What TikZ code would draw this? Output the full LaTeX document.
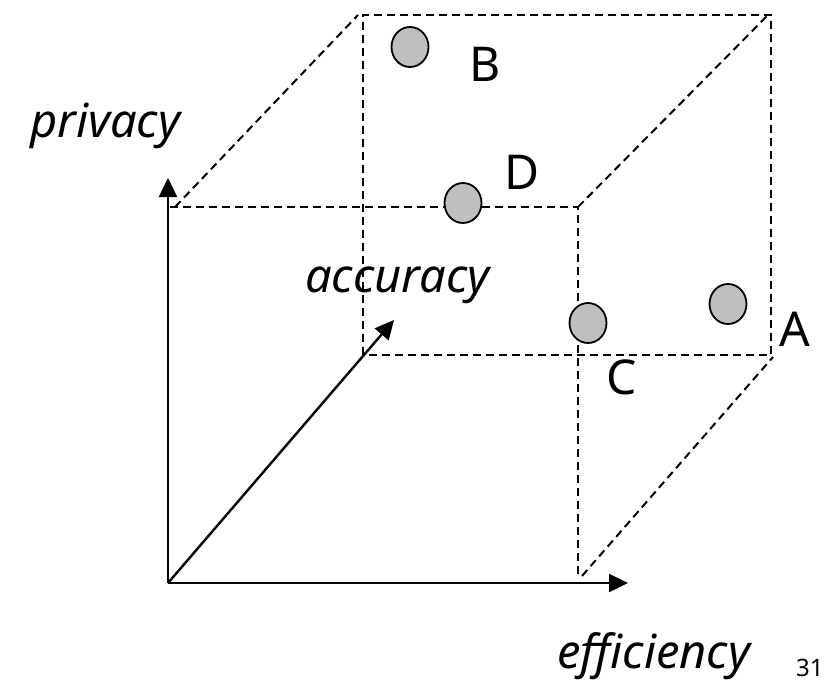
\documentclass[tikz,border=0pt]{standalone}
\usepackage{fontspec}
\setmainfont{Noto Sans}
\usetikzlibrary{arrows.meta}
\tikzset{
  axis/.style={line width=2.4pt, -{Triangle[length=19pt,width=18pt]}},
  edge/.style={line width=2pt, dash pattern=on 8pt off 5pt},
  point/.style={ellipse, draw, line width=1.8pt, fill=black!25, minimum width=37pt, minimum height=40pt, inner sep=0pt},
  lbl/.style={font=\fontsize{48}{48}\selectfont, inner sep=0pt},
  axlbl/.style={font=\fontsize{47}{47}\selectfont\itshape, inner sep=0pt, anchor=base west}
}
\usetikzlibrary{shapes.geometric}
\begin{document}
\begin{tikzpicture}[x=1pt,y=-1pt]
            \useasboundingbox (0,0) rectangle (838,683);
            \coordinate (o) at (168,583);
            \coordinate (ftl) at (170,207);
            \coordinate (ftr) at (578,207);
            \coordinate (fbr) at (578,578);
            \coordinate (btl) at (363,15);
            \coordinate (btr) at (771,15);
            \coordinate (bbr) at (771,355);
            \coordinate (bbl) at (363,355);
            \coordinate (ptip) at (168,178);
            \coordinate (etip) at (628,583);
            \coordinate (atip) at (394,320);
            \draw[edge] (ftl) -- (ftr) -- (fbr);
            \draw[edge] (bbl) -- (btl) -- (btr) -- (bbr) -- (bbl);
            \draw[edge] ([shift={(5,0)}]ftl) -- ([shift={(-5,0)}]btl);
            \draw[edge] (ftr) -- ([shift={(-3,0)}]btr);
            \draw[edge] ([shift={(4,-2)}]fbr) -- ([shift={(2,2)}]bbr);
            \draw[axis] (o) -- (ptip);
            \draw[axis] (o) -- (etip);
            \draw[axis] (o) -- (atip);
            \node[point] (b) at (410,47) {};
            \node[point] (d) at (463,203) {};
            \node[point] (c) at (588,323) {};
            \node[point] (a) at (728,304) {};
            \node[lbl] (lb) at (485,64) {B};
            \node[lbl] (ld) at (522,172) {D};
            \node[lbl] (lc) at (622,377) {C};
            \node[lbl] (la) at (795,329) {A};
            \node[axlbl] (lp) at (30,137) {privacy};
            \node[axlbl] (lacc) at (305,292) {accuracy};
            \node[axlbl] (leff) at (557,668) {efficiency};
            \node[font=\fontsize{24}{24}\selectfont, inner sep=0pt, anchor=base west] (pg) at (796,676) {31};
        \end{tikzpicture}
\end{document}
